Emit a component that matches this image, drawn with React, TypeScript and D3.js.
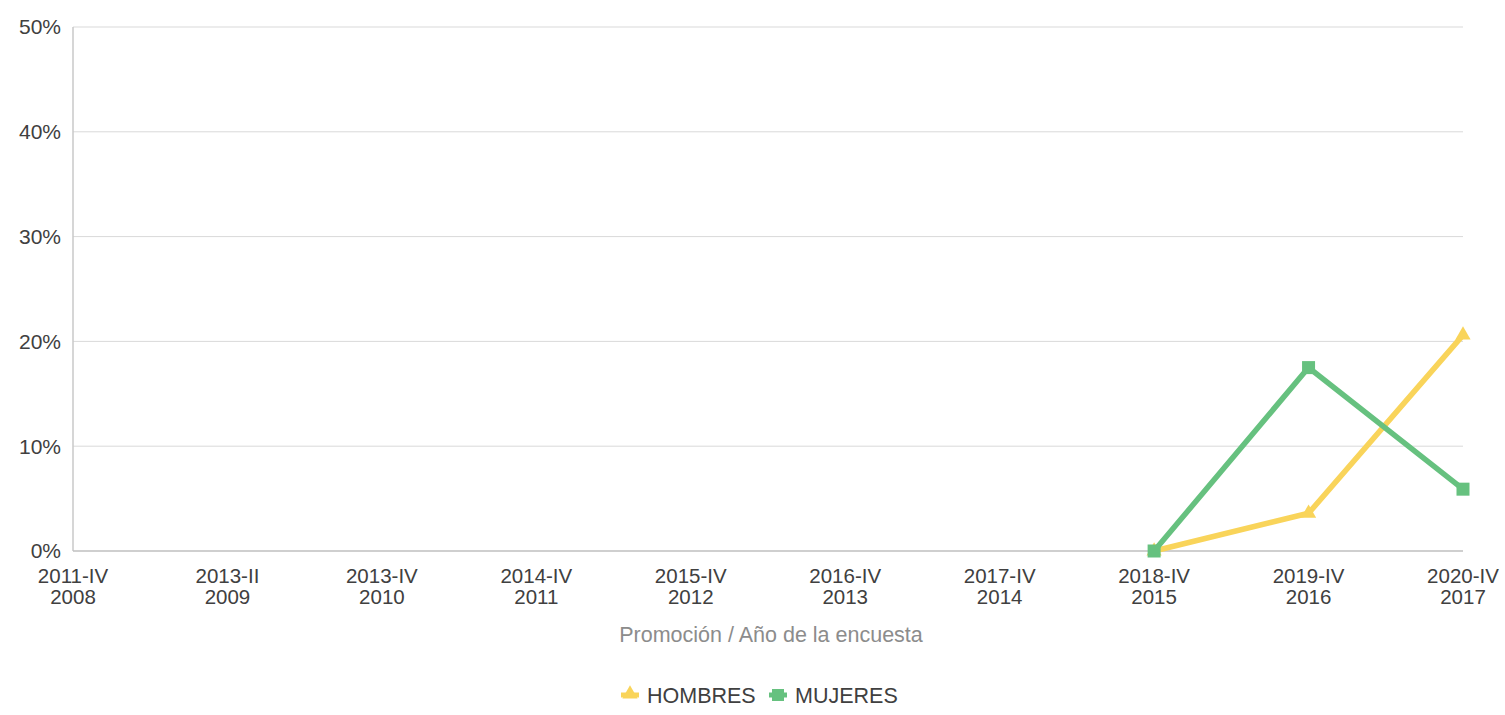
import * as d3 from 'd3';

const CATEGORIES = [
  ['2011-IV', '2008'],
  ['2013-II', '2009'],
  ['2013-IV', '2010'],
  ['2014-IV', '2011'],
  ['2015-IV', '2012'],
  ['2016-IV', '2013'],
  ['2017-IV', '2014'],
  ['2018-IV', '2015'],
  ['2019-IV', '2016'],
  ['2020-IV', '2017'],
];

// null = no data for that promotion
const HOMBRES: (number | null)[] = [null, null, null, null, null, null, null, 0, 0.036, 0.206];
const MUJERES: (number | null)[] = [null, null, null, null, null, null, null, 0, 0.175, 0.059];

const Y_TICKS = [0, 0.1, 0.2, 0.3, 0.4, 0.5];

const WIDTH = 1505;
const HEIGHT = 715;
const MARGIN = { top: 27, right: 42, bottom: 164, left: 73 };
const FONT = "'Liberation Sans', Arial, Helvetica, sans-serif";

const YELLOW = '#f9d45a';
const GREEN = '#66c17f';

export default function App() {
  const innerW = WIDTH - MARGIN.left - MARGIN.right;
  const innerH = HEIGHT - MARGIN.top - MARGIN.bottom;

  const x = d3
    .scalePoint<number>()
    .domain(CATEGORIES.map((_, i) => i))
    .range([0, innerW]);
  const y = d3.scaleLinear().domain([0, 0.5]).range([innerH, 0]);

  const line = d3
    .line<number | null>()
    .defined((d) => d !== null)
    .x((_, i) => x(i) ?? 0)
    .y((d) => y(d as number));

  const triangle = d3.symbol(d3.symbolTriangle, 100)() ?? '';

  return (
    <svg
      width={WIDTH}
      height={HEIGHT}
      style={{ position: 'absolute', left: 0, top: 0, background: '#fff' }}
    >
      <g transform={`translate(${MARGIN.left},${MARGIN.top})`}>
        {/* grid */}
        {Y_TICKS.filter((t) => t > 0).map((t) => (
          <line key={t} x1={0} x2={innerW} y1={y(t)} y2={y(t)} stroke="#d9d9d9" strokeWidth={1} />
        ))}
        {/* axes */}
        <line x1={0} x2={0} y1={0} y2={innerH} stroke="#c8c8c8" strokeWidth={1.5} />
        <line x1={0} x2={innerW} y1={innerH} y2={innerH} stroke="#bfbfbf" strokeWidth={1.5} />

        {/* y labels */}
        {Y_TICKS.map((t) => (
          <text
            key={t}
            x={-12}
            y={y(t)}
            dy="0.35em"
            textAnchor="end"
            fontFamily={FONT}
            fontSize={21}
            fill="#404040"
          >
            {`${Math.round(t * 100)}%`}
          </text>
        ))}

        {/* x labels */}
        {CATEGORIES.map((c, i) => (
          <g key={i}>
            <text
              x={x(i)}
              y={innerH + 32}
              textAnchor="middle"
              fontFamily={FONT}
              fontSize={20.5}
              fill="#404040"
            >
              {c[0]}
            </text>
            <text
              x={x(i)}
              y={innerH + 53}
              textAnchor="middle"
              fontFamily={FONT}
              fontSize={20.5}
              fill="#404040"
            >
              {c[1]}
            </text>
          </g>
        ))}

        <text
          x={innerW / 2 + 3}
          y={innerH + 91}
          textAnchor="middle"
          fontFamily={FONT}
          fontSize={21.5}
          fill="#8c8c8c"
        >
          Promoción / Año de la encuesta
        </text>

        {/* lines */}
        <path d={line(HOMBRES) ?? ''} fill="none" stroke={YELLOW} strokeWidth={5.5} />
        <path d={line(MUJERES) ?? ''} fill="none" stroke={GREEN} strokeWidth={5.5} />

        {HOMBRES.map((d, i) =>
          d === null ? null : (
            <path key={i} d={triangle} transform={`translate(${x(i)},${y(d)})`} fill={YELLOW} />
          ),
        )}
        {MUJERES.map((d, i) =>
          d === null ? null : (
            <rect key={i} x={(x(i) ?? 0) - 6.5} y={y(d) - 6.5} width={13} height={13} fill={GREEN} />
          ),
        )}
      </g>

      {/* legend */}
      <g transform="translate(0,695)">
        <line x1={621} x2={639} y1={0} y2={0} stroke={YELLOW} strokeWidth={5} />
        <path d={triangle} transform="translate(630,-1)" fill={YELLOW} />
        <text x={647} y={0} dy="0.35em" fontFamily={FONT} fontSize={21.5} fill="#404040">
          HOMBRES
        </text>
        <line x1={769} x2={787} y1={0} y2={0} stroke={GREEN} strokeWidth={5} />
        <rect x={772} y={-6} width={12} height={12} fill={GREEN} />
        <text x={795} y={0} dy="0.35em" fontFamily={FONT} fontSize={21.5} fill="#404040">
          MUJERES
        </text>
      </g>
    </svg>
  );
}
